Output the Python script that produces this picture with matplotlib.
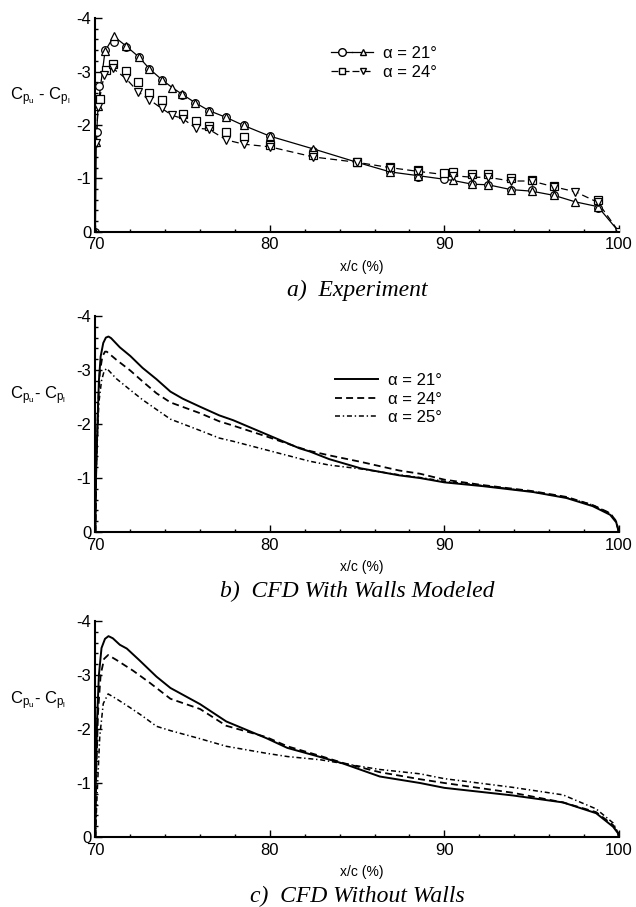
import matplotlib
matplotlib.use("Agg")
import matplotlib.pyplot as plt
from matplotlib.lines import Line2D
from matplotlib.legend_handler import HandlerTuple
from matplotlib.ticker import MultipleLocator

plt.rcParams["font.family"] = ["Liberation Sans", "DejaVu Sans"]
plt.rcParams["mathtext.fontset"] = "custom"
plt.rcParams["mathtext.rm"] = "Liberation Sans"
plt.rcParams["mathtext.it"] = "Liberation Sans:italic"
plt.rcParams["axes.unicode_minus"] = False
plt.rcParams["lines.scale_dashes"] = False

# ---- a) Experiment ----
a21_circ_x = [70.0, 70.08, 70.2, 70.55, 71.05, 71.75, 72.5, 73.1, 73.8, 74.95, 75.7, 76.5,
              77.5, 78.5, 80.0, 82.5, 85.0, 86.9, 88.5, 90.0, 91.6, 92.5, 93.8, 95.0, 96.3,
              98.8, 100.0]
a21_circ_y = [0, -1.87, -2.73, -3.40, -3.56, -3.46, -3.27, -3.05, -2.85, -2.57, -2.42, -2.27,
              -2.14, -1.99, -1.79, -1.52, -1.30, -1.11, -1.03, -0.98, -0.89, -0.88, -0.79,
              -0.78, -0.68, -0.45, 0]
a21_tri_x = [70.0, 70.05, 70.15, 70.55, 71.05, 71.75, 72.5, 73.1, 73.8, 74.4, 74.95, 75.7,
             76.5, 77.5, 78.5, 80.0, 82.5, 85.0, 86.9, 88.5, 90.5, 91.6, 92.5, 93.8, 95.0,
             96.3, 97.5, 98.8, 100.0]
a21_tri_y = [0, -1.68, -2.35, -3.38, -3.66, -3.48, -3.27, -3.05, -2.85, -2.70, -2.58, -2.42,
             -2.27, -2.14, -1.99, -1.79, -1.55, -1.30, -1.12, -1.05, -0.96, -0.89, -0.88,
             -0.79, -0.76, -0.68, -0.56, -0.47, 0]
a24_sq_x = [70.25, 70.6, 71.0, 71.75, 72.45, 73.1, 73.8, 75.0, 75.75, 76.5, 77.5, 78.5, 80.0,
            82.5, 85.0, 86.9, 88.5, 90.0, 90.5, 91.6, 92.5, 93.8, 95.0, 96.3, 98.8]
a24_sq_y = [-2.48, -3.03, -3.15, -3.01, -2.81, -2.59, -2.47, -2.20, -2.08, -1.98, -1.86, -1.78,
            -1.62, -1.43, -1.30, -1.22, -1.15, -1.10, -1.12, -1.08, -1.08, -1.00, -0.97,
            -0.86, -0.60]
a24_tri_x = [70.05, 70.15, 70.5, 71.0, 71.75, 72.45, 73.1, 73.8, 74.4, 75.0, 75.75, 76.5,
             77.5, 78.5, 80.0, 82.5, 85.0, 86.9, 88.5, 90.5, 91.6, 92.5, 93.8, 95.0, 96.3,
             97.5, 98.8, 100.0]
a24_tri_y = [-1.66, -2.34, -2.93, -3.06, -2.87, -2.62, -2.47, -2.31, -2.18, -2.12, -1.94,
             -1.92, -1.72, -1.64, -1.59, -1.40, -1.30, -1.20, -1.13, -1.05, -1.02, -1.02,
             -0.95, -0.95, -0.84, -0.75, -0.55, 0]

# ---- b) CFD with walls ----
b21_x = [70.0, 70.03, 70.1, 70.2, 70.3, 70.45, 70.6, 70.75, 70.9, 71.4, 72.0, 72.7, 73.5,
         74.3, 75.0, 76.0, 77.1, 77.9, 79.8, 81.7, 82.3, 83.4, 85.2, 87.4, 88.6, 90.0, 92.2,
         95.1, 97.0, 98.5, 99.5, 99.85, 100.0]
b21_y = [0, -1.0, -1.8, -2.8, -3.25, -3.5, -3.6, -3.62, -3.59, -3.42, -3.26, -3.04, -2.83,
         -2.60, -2.47, -2.32, -2.16, -2.07, -1.81, -1.55, -1.49, -1.35, -1.18, -1.05, -1.00,
         -0.92, -0.85, -0.74, -0.63, -0.48, -0.32, -0.18, 0]
b24_x = [70.0, 70.05, 70.15, 70.25, 70.4, 70.55, 70.65, 71.2, 72.0, 72.7, 73.5, 74.3, 76.0,
         77.1, 77.9, 79.8, 81.7, 82.3, 83.4, 85.2, 87.4, 88.6, 90.0, 92.2, 95.0, 97.0, 98.5,
         99.5, 99.85, 100.0]
b24_y = [0, -1.2, -2.3, -2.95, -3.25, -3.34, -3.34, -3.19, -2.99, -2.79, -2.57, -2.40, -2.20,
         -2.05, -1.97, -1.77, -1.56, -1.50, -1.42, -1.30, -1.14, -1.08, -0.97, -0.87, -0.76,
         -0.65, -0.50, -0.35, -0.20, 0]
b25_x = [70.0, 70.05, 70.2, 70.35, 70.5, 70.65, 71.2, 72.0, 72.7, 73.5, 74.3, 76.0, 77.1,
         77.9, 79.8, 81.7, 82.3, 83.4, 85.2, 87.4, 88.6, 90.0, 92.2, 95.0, 97.0, 98.5, 99.5,
         99.85, 100.0]
b25_y = [0, -1.2, -2.4, -2.8, -2.98, -3.03, -2.84, -2.63, -2.45, -2.27, -2.09, -1.88, -1.74,
         -1.68, -1.52, -1.36, -1.31, -1.24, -1.17, -1.06, -1.01, -0.94, -0.86, -0.75, -0.64,
         -0.50, -0.34, -0.20, 0]

# ---- c) CFD without walls ----
c21_x = [70.0, 70.03, 70.1, 70.2, 70.35, 70.55, 70.75, 71.0, 71.4, 71.8, 72.5, 73.5, 74.3,
         76.0, 77.5, 79.8, 81.0, 82.9, 84.2, 86.3, 88.6, 90.0, 93.9, 96.8, 98.7, 99.67, 99.95,
         100.0]
c21_y = [0, -1.2, -2.2, -3.0, -3.5, -3.67, -3.72, -3.68, -3.56, -3.49, -3.28, -2.97, -2.76,
         -2.46, -2.14, -1.83, -1.65, -1.48, -1.36, -1.12, -1.00, -0.91, -0.77, -0.64, -0.44,
         -0.19, -0.07, 0]
c24_x = [70.0, 70.05, 70.15, 70.3, 70.5, 70.73, 71.2, 72.16, 73.1, 74.3, 76.0, 77.5, 79.8,
         81.0, 82.9, 84.2, 86.3, 88.6, 90.0, 93.9, 96.8, 98.7, 99.67, 99.95, 100.0]
c24_y = [0, -1.2, -2.3, -3.0, -3.3, -3.37, -3.28, -3.08, -2.86, -2.56, -2.37, -2.06, -1.85,
         -1.68, -1.50, -1.37, -1.20, -1.07, -1.00, -0.82, -0.64, -0.46, -0.22, -0.08, 0]
c25_x = [70.0, 70.1, 70.25, 70.45, 70.73, 71.2, 71.97, 72.7, 73.5, 74.3, 76.0, 77.5, 79.8,
         81.0, 82.9, 84.2, 86.3, 88.6, 90.0, 93.9, 96.8, 98.7, 99.67, 99.95, 100.0]
c25_y = [0, -0.8, -1.86, -2.47, -2.65, -2.56, -2.40, -2.24, -2.05, -1.97, -1.82, -1.68, -1.55,
         -1.49, -1.43, -1.36, -1.25, -1.17, -1.08, -0.92, -0.78, -0.52, -0.26, -0.08, 0]

alpha_labels = ["α = 21°", "α = 24°", "α = 25°"]
captions = ["a)  Experiment", "b)  CFD With Walls Modeled", "c)  CFD Without Walls"]
ylabels = [r"C$_{\mathrm{p_u}}$ - C$_{\mathrm{p_l}}$", r"C$_{\mathrm{p_u}}$- C$_{\mathrm{p_l}}$",
           r"C$_{\mathrm{p_u}}$- C$_{\mathrm{p_l}}$"]

DASHED = (0, (5, 3))
DASHDOT = (0, (3.6, 2, 1, 2))

fig = plt.figure(figsize=(6.36, 9.07), dpi=100)
rects = [[0.150, 0.7445, 0.823, 0.2355],
         [0.150, 0.4134, 0.823, 0.2382],
         [0.150, 0.0772, 0.823, 0.2381]]
axes = [fig.add_axes(r) for r in rects]

for i, ax in enumerate(axes):
    ax.set_xlim(70, 100)
    ax.set_ylim(0, -4)
    ax.xaxis.set_major_locator(MultipleLocator(10))
    ax.xaxis.set_minor_locator(MultipleLocator(2))
    ax.yaxis.set_major_locator(MultipleLocator(1))
    ax.yaxis.set_minor_locator(MultipleLocator(0.2))
    for s in ["top", "right"]:
        ax.spines[s].set_visible(False)
    for s in ["left", "bottom"]:
        ax.spines[s].set_linewidth(1.5)
    ax.tick_params(which="both", direction="in", labelsize=12, width=1.0)
    ax.tick_params(which="major", length=5)
    ax.tick_params(which="minor", length=2.5)
    ax.tick_params(axis="y", pad=3)
    ax.tick_params(axis="x", pad=4)
    ax.set_xlabel("x/c (%)", fontsize=10, va="center")
    ax.xaxis.set_label_coords(0.508, -0.163)
    ax.set_ylabel(ylabels[i], fontsize=12, rotation=0, ha="left", va="baseline")
    ax.yaxis.set_label_coords(-0.163, 0.616)
    ax.text(0.5, -0.30, captions[i], transform=ax.transAxes, ha="center", va="baseline",
            fontsize=17, family=["Liberation Serif"], style="italic")

# a)
ax = axes[0]
mk = dict(color="k", mfc="white", mec="k", mew=0.9, ms=5.5)
ax.plot(a21_tri_x, a21_tri_y, "-", color="k", lw=0.9)
ax.plot(a24_tri_x, a24_tri_y, linestyle=DASHED, color="k", lw=0.9)
ax.plot(a21_circ_x, a21_circ_y, "o", linestyle="none", **mk)
ax.plot(a21_tri_x, a21_tri_y, "^", linestyle="none", **mk)
ax.plot(a24_sq_x, a24_sq_y, "s", linestyle="none", **mk)
ax.plot(a24_tri_x, a24_tri_y, "v", linestyle="none", **mk)
h21 = (Line2D([], [], color="k", lw=0.9, marker="o", mfc="white", ms=5.5),
       Line2D([], [], color="k", lw=0.9, marker="^", mfc="white", ms=5))
h24 = (Line2D([], [], color="k", lw=0.9, linestyle=DASHED, marker="s", mfc="white", ms=5),
       Line2D([], [], color="k", lw=0.9, linestyle=DASHED, marker="v", mfc="white", ms=5))
ax.legend([h21, h24], alpha_labels[:2], handler_map={tuple: HandlerTuple(ndivide=None, pad=0)},
          loc="upper left", bbox_to_anchor=(0.451, 0.87), frameon=False, fontsize=12,
          handlelength=2.5, handletextpad=0.6, labelspacing=0.25, borderpad=0,
          borderaxespad=0, numpoints=1)

# b)
ax = axes[1]
lb = []
lb += ax.plot(b21_x, b21_y, "-", color="k", lw=1.4)
lb += ax.plot(b24_x, b24_y, linestyle=DASHED, color="k", lw=1.3)
lb += ax.plot(b25_x, b25_y, linestyle=DASHDOT, color="k", lw=1.1)
ax.legend(lb, alpha_labels, loc="upper left", bbox_to_anchor=(0.457, 0.735), frameon=False,
          fontsize=12, handlelength=2.6, handletextpad=0.6, labelspacing=0.2, borderpad=0,
          borderaxespad=0)

# c)
ax = axes[2]
ax.plot(c21_x, c21_y, "-", color="k", lw=1.4)
ax.plot(c24_x, c24_y, linestyle=DASHED, color="k", lw=1.3)
ax.plot(c25_x, c25_y, linestyle=DASHDOT, color="k", lw=1.1)

fig.savefig("out.png", dpi=100)
